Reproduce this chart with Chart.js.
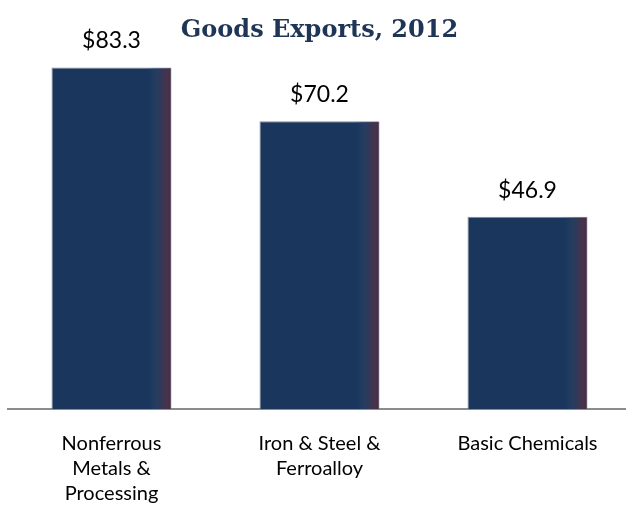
<!DOCTYPE html>
<html>
<head>
<meta charset="utf-8">
<script src="https://cdn.jsdelivr.net/npm/chart.js@4"></script>
<style>
  html, body { margin: 0; padding: 0; background: #fff; overflow: hidden; }
  #wrap { width: 639px; height: 506px; }
</style>
</head>
<body>
<div id="wrap"><canvas id="exportsChart"></canvas></div>
<script>
const categories = [
    ["Nonferrous", "Metals &", "Processing"],
    ["Iron & Steel &", "Ferroalloy"],
    ["Basic Chemicals"]
];
const values = [83.3, 70.2, 46.9];
const valueLabels = ["$83.3", "$70.2", "$46.9"];

// value labels above bars + darker right edge shading like the original
const barDecor = {
    id: "barDecor",
    afterDatasetsDraw(chart) {
        const c = chart.ctx;
        const meta = chart.getDatasetMeta(0);
        meta.data.forEach((bar, i) => {
            const left = bar.x - bar.width / 2;
            const right = bar.x + bar.width / 2;
            const g = c.createLinearGradient(left, 0, right, 0);
            g.addColorStop(0, "rgba(27,54,93,0)");
            g.addColorStop(0.78, "rgba(27,54,93,0)");
            g.addColorStop(0.86, "rgba(40,66,100,0.6)");
            g.addColorStop(0.97, "rgba(76,48,72,1)");
            g.addColorStop(1, "rgba(70,46,70,1)");
            c.save();
            c.fillStyle = g;
            c.fillRect(left + 1, bar.y + 1, bar.width - 2, bar.base - bar.y - 1);
            c.fillStyle = "#000";
            c.font = "23px Lato";
            c.textAlign = "center";
            c.textBaseline = "alphabetic";
            c.fillText(valueLabels[i], bar.x, bar.y - 19);
            c.restore();
        });
    }
};

const ctx = document.getElementById("exportsChart");

new Chart(ctx, {
    type: "bar",
    data: {
        labels: categories,
        datasets: [{
            data: values,
            backgroundColor: "#1b365d",
            borderColor: "#8a8c98",
            borderWidth: 1,
            categoryPercentage: 1,
            barPercentage: 0.577
        }]
    },
    options: {
        responsive: true,
        maintainAspectRatio: false,
        animation: false,
        layout: {
            padding: { left: 7.5, right: 7.5, top: 0, bottom: -22 }
        },
        plugins: {
            legend: { display: false },
            tooltip: { enabled: false },
            title: {
                display: true,
                text: "Goods Exports, 2012",
                color: "#1f3556",
                font: { family: "DejaVu Serif", size: 24, weight: "bold" },
                padding: { top: 16, bottom: 3 }
            }
        },
        scales: {
            x: {
                grid: { display: false, drawTicks: false },
                border: { display: true, color: "#8c8c8c", width: 2 },
                ticks: {
                    color: "#000",
                    font: { family: "Lato", size: 20, lineHeight: 1.25 },
                    padding: 22,
                    maxRotation: 0,
                    autoSkip: false
                }
            },
            y: {
                display: false,
                min: 0,
                max: 88.1
            }
        }
    },
    plugins: [barDecor]
});
</script>
</body>
</html>
